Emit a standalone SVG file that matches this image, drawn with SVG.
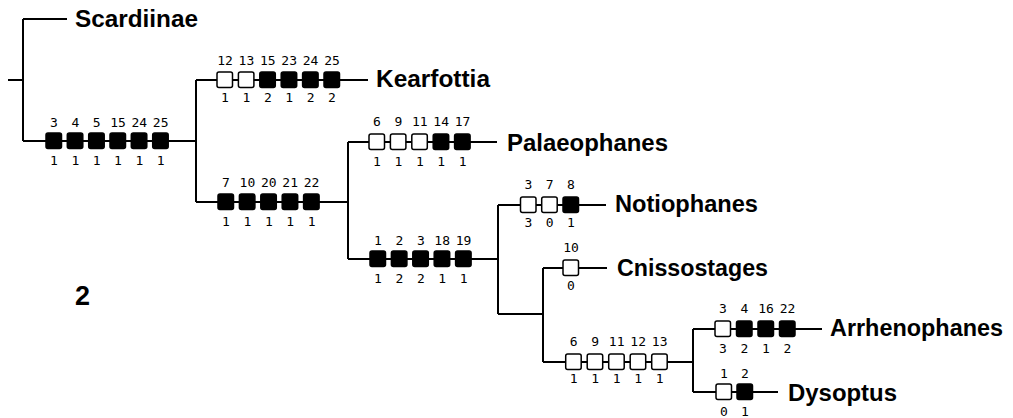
<svg xmlns="http://www.w3.org/2000/svg" width="1013" height="418" viewBox="0 0 1013 418">
<style>
.ln{stroke:#000;stroke-width:2;fill:none}
.f{fill:#000;stroke:#000;stroke-width:1.5}
.o{fill:#fff;stroke:#000;stroke-width:1.5}
.n{font-family:"DejaVu Sans Mono","Liberation Mono",monospace;font-size:13px;fill:#000;text-anchor:middle}
.t{font-family:"Liberation Sans",Arial,sans-serif;font-weight:bold;font-size:23px;fill:#000}
</style>
<rect width="1013" height="418" fill="#fff"/>
<g id="connectors">
<path class="ln" d="M8,80H23M23,19V141M23,19H67M23,141H196"/>
<path class="ln" d="M196,80V202M196,80H368M196,202H348"/>
<path class="ln" d="M348,142V259M348,142H497M348,259H498"/>
<path class="ln" d="M498,205V314M498,205H606M498,314H543"/>
<path class="ln" d="M543,268V362M543,268H607M543,362H693"/>
<path class="ln" d="M693,329V392M693,329H822M693,392H778"/>
</g>
<g id="Scardiinae"><text class="t" x="75" y="27" textLength="123" lengthAdjust="spacingAndGlyphs">Scardiinae</text></g>
<g id="clade-root-chars">
<rect class="f" x="46" y="133" width="15.5" height="15.5" rx="2"/>
<rect class="f" x="67.3" y="133" width="15.5" height="15.5" rx="2"/>
<rect class="f" x="88.7" y="133" width="15.5" height="15.5" rx="2"/>
<rect class="f" x="110" y="133" width="15.5" height="15.5" rx="2"/>
<rect class="f" x="131.3" y="133" width="15.5" height="15.5" rx="2"/>
<rect class="f" x="152.7" y="133" width="15.5" height="15.5" rx="2"/>
<text class="n" x="54" y="127">3</text><text class="n" x="75.3" y="127">4</text><text class="n" x="96.7" y="127">5</text><text class="n" x="118" y="127">15</text><text class="n" x="139.3" y="127">24</text><text class="n" x="160.7" y="127">25</text>
<text class="n" x="54" y="165">1</text><text class="n" x="75.3" y="165">1</text><text class="n" x="96.7" y="165">1</text><text class="n" x="118" y="165">1</text><text class="n" x="139.3" y="165">1</text><text class="n" x="160.7" y="165">1</text>
</g>
<g id="Kearfottia">
<rect class="o" x="217" y="72" width="15.5" height="15.5" rx="2"/>
<rect class="o" x="238.4" y="72" width="15.5" height="15.5" rx="2"/>
<rect class="f" x="259.8" y="72" width="15.5" height="15.5" rx="2"/>
<rect class="f" x="281.2" y="72" width="15.5" height="15.5" rx="2"/>
<rect class="f" x="302.6" y="72" width="15.5" height="15.5" rx="2"/>
<rect class="f" x="324" y="72" width="15.5" height="15.5" rx="2"/>
<text class="n" x="225" y="65">12</text><text class="n" x="246.4" y="65">13</text><text class="n" x="267.8" y="65">15</text><text class="n" x="289.2" y="65">23</text><text class="n" x="310.6" y="65">24</text><text class="n" x="332" y="65">25</text>
<text class="n" x="225" y="102">1</text><text class="n" x="246.4" y="102">1</text><text class="n" x="267.8" y="102">2</text><text class="n" x="289.2" y="102">1</text><text class="n" x="310.6" y="102">2</text><text class="n" x="332" y="102">2</text>
<text class="t" x="376" y="87" textLength="114" lengthAdjust="spacingAndGlyphs">Kearfottia</text>
</g>
<g id="clade-b-chars">
<rect class="f" x="218" y="194" width="15.5" height="15.5" rx="2"/>
<rect class="f" x="239.4" y="194" width="15.5" height="15.5" rx="2"/>
<rect class="f" x="260.8" y="194" width="15.5" height="15.5" rx="2"/>
<rect class="f" x="282.2" y="194" width="15.5" height="15.5" rx="2"/>
<rect class="f" x="303.6" y="194" width="15.5" height="15.5" rx="2"/>
<text class="n" x="226" y="187">7</text><text class="n" x="247.4" y="187">10</text><text class="n" x="268.8" y="187">20</text><text class="n" x="290.2" y="187">21</text><text class="n" x="311.6" y="187">22</text>
<text class="n" x="226" y="226">1</text><text class="n" x="247.4" y="226">1</text><text class="n" x="268.8" y="226">1</text><text class="n" x="290.2" y="226">1</text><text class="n" x="311.6" y="226">1</text>
</g>
<g id="Palaeophanes">
<rect class="o" x="369" y="134" width="15.5" height="15.5" rx="2"/>
<rect class="o" x="390.4" y="134" width="15.5" height="15.5" rx="2"/>
<rect class="o" x="411.8" y="134" width="15.5" height="15.5" rx="2"/>
<rect class="f" x="433.2" y="134" width="15.5" height="15.5" rx="2"/>
<rect class="f" x="454.6" y="134" width="15.5" height="15.5" rx="2"/>
<text class="n" x="377" y="126">6</text><text class="n" x="398.4" y="126">9</text><text class="n" x="419.8" y="126">11</text><text class="n" x="441.2" y="126">14</text><text class="n" x="462.6" y="126">17</text>
<text class="n" x="377" y="166">1</text><text class="n" x="398.4" y="166">1</text><text class="n" x="419.8" y="166">1</text><text class="n" x="441.2" y="166">1</text><text class="n" x="462.6" y="166">1</text>
<text class="t" x="507" y="151" textLength="161" lengthAdjust="spacingAndGlyphs">Palaeophanes</text>
</g>
<g id="clade-c-chars">
<rect class="f" x="370" y="251" width="15.5" height="15.5" rx="2"/>
<rect class="f" x="391.4" y="251" width="15.5" height="15.5" rx="2"/>
<rect class="f" x="412.8" y="251" width="15.5" height="15.5" rx="2"/>
<rect class="f" x="434.2" y="251" width="15.5" height="15.5" rx="2"/>
<rect class="f" x="455.6" y="251" width="15.5" height="15.5" rx="2"/>
<text class="n" x="378" y="245">1</text><text class="n" x="399.4" y="245">2</text><text class="n" x="420.8" y="245">3</text><text class="n" x="442.2" y="245">18</text><text class="n" x="463.6" y="245">19</text>
<text class="n" x="378" y="283">1</text><text class="n" x="399.4" y="283">2</text><text class="n" x="420.8" y="283">2</text><text class="n" x="442.2" y="283">1</text><text class="n" x="463.6" y="283">1</text>
</g>
<g id="Notiophanes">
<rect class="o" x="520.5" y="197" width="15.5" height="15.5" rx="2"/>
<rect class="o" x="541.7" y="197" width="15.5" height="15.5" rx="2"/>
<rect class="f" x="563" y="197" width="15.5" height="15.5" rx="2"/>
<text class="n" x="528.5" y="189">3</text><text class="n" x="549.7" y="189">7</text><text class="n" x="571" y="189">8</text>
<text class="n" x="528.5" y="227">3</text><text class="n" x="549.7" y="227">0</text><text class="n" x="571" y="227">1</text>
<text class="t" x="615" y="212" textLength="143" lengthAdjust="spacingAndGlyphs">Notiophanes</text>
</g>
<g id="Cnissostages">
<rect class="o" x="563" y="260" width="15.5" height="15.5" rx="2"/>
<text class="n" x="571" y="252">10</text>
<text class="n" x="571" y="290">0</text>
<text class="t" x="617" y="276" textLength="151" lengthAdjust="spacingAndGlyphs">Cnissostages</text>
</g>
<g id="clade-d-chars">
<rect class="o" x="565.7" y="354" width="15.5" height="15.5" rx="2"/>
<rect class="o" x="587.2" y="354" width="15.5" height="15.5" rx="2"/>
<rect class="o" x="608.7" y="354" width="15.5" height="15.5" rx="2"/>
<rect class="o" x="630.2" y="354" width="15.5" height="15.5" rx="2"/>
<rect class="o" x="651.7" y="354" width="15.5" height="15.5" rx="2"/>
<text class="n" x="573.7" y="346">6</text><text class="n" x="595.2" y="346">9</text><text class="n" x="616.7" y="346">11</text><text class="n" x="638.2" y="346">12</text><text class="n" x="659.7" y="346">13</text>
<text class="n" x="573.7" y="383">1</text><text class="n" x="595.2" y="383">1</text><text class="n" x="616.7" y="383">1</text><text class="n" x="638.2" y="383">1</text><text class="n" x="659.7" y="383">1</text>
</g>
<g id="Arrhenophanes">
<rect class="o" x="715" y="321" width="15.5" height="15.5" rx="2"/>
<rect class="f" x="736.5" y="321" width="15.5" height="15.5" rx="2"/>
<rect class="f" x="758" y="321" width="15.5" height="15.5" rx="2"/>
<rect class="f" x="779.5" y="321" width="15.5" height="15.5" rx="2"/>
<text class="n" x="723" y="313">3</text><text class="n" x="744.5" y="313">4</text><text class="n" x="766" y="313">16</text><text class="n" x="787.5" y="313">22</text>
<text class="n" x="723" y="353">3</text><text class="n" x="744.5" y="353">2</text><text class="n" x="766" y="353">1</text><text class="n" x="787.5" y="353">2</text>
<text class="t" x="830" y="336" textLength="173" lengthAdjust="spacingAndGlyphs">Arrhenophanes</text>
</g>
<g id="Dysoptus">
<rect class="o" x="716" y="384" width="15.5" height="15.5" rx="2"/>
<rect class="f" x="737" y="384" width="15.5" height="15.5" rx="2"/>
<text class="n" x="724" y="378">1</text><text class="n" x="745" y="378">2</text>
<text class="n" x="724" y="416">0</text><text class="n" x="745" y="416">1</text>
<text class="t" x="788" y="401" textLength="109" lengthAdjust="spacingAndGlyphs">Dysoptus</text>
</g>
<g id="figure-number"><text class="t" x="75" y="305" style="font-size:27px">2</text></g>
</svg>
